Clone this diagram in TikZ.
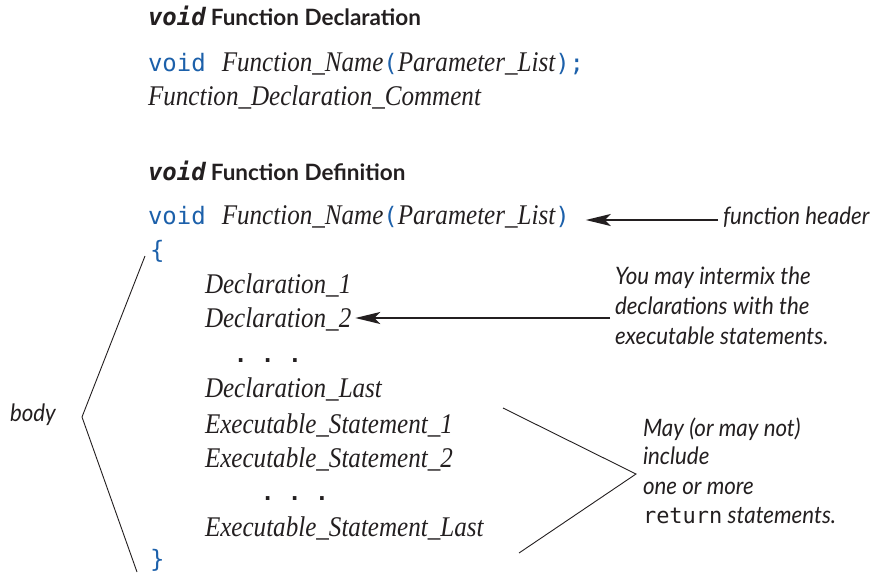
\documentclass[tikz,border=0pt]{standalone}
\usepackage{fontspec}
\usetikzlibrary{arrows.meta}
\setmainfont{Liberation Serif}
\newfontfamily\codefont[FakeStretch=0.88]{Liberation Serif}
\newfontfamily\monofont{DejaVu Sans Mono}
\newfontfamily\notefont[FakeStretch=0.93]{Lato}
\newfontfamily\headfont{Lato}
\definecolor{kwblue}{RGB}{28,96,170}
\definecolor{ink}{RGB}{35,31,32}
\newcommand{\kw}[1]{{\color{kwblue}\monofont\fontsize{24}{28}\selectfont #1}}
\newcommand{\ci}[1]{{\codefont\itshape #1}}
\begin{document}
\begin{tikzpicture}[x=1pt,y=-1pt,
  every node/.style={inner sep=0pt,outer sep=0pt,text=ink},
  code/.style={anchor=base west,font=\fontsize{28.5}{33}\selectfont},
  head/.style={anchor=base west,font=\fontsize{22.5}{26}\selectfont},
  note/.style={anchor=base west,font=\notefont\itshape\fontsize{24}{28}\selectfont},
  dots/.style={anchor=base west,font=\monofont\bfseries\fontsize{22}{24}\selectfont},
  brace/.style={anchor=base west,text=kwblue,font=\monofont\fontsize{24}{28}\selectfont},
  pointer/.style={draw=ink,line width=2pt,-{Stealth[length=25pt,width=12pt,inset=6pt]}},
  bracket/.style={draw=ink,line width=0.9pt}]
\useasboundingbox (0,0) rectangle (883,573);
% declaration
\node[head] (h1) at (148,25) {{\monofont\bfseries\itshape\fontsize{24}{26}\selectfont void}\hspace{5pt}{\headfont\bfseries Function Declaration}};
\node[code] (d1) at (148,71) {\kw{void}\hspace{16pt}\ci{Function\_Name}\kw{(}\ci{Parameter\_List}\kw{);}};
\node[code] (d2) at (148,105) {\ci{Function\_Declaration\_Comment}};
% definition
\node[head] (h2) at (148,180) {{\monofont\bfseries\itshape\fontsize{24}{26}\selectfont void}\hspace{5pt}{\headfont\bfseries Function Definition}};
\node[code] (f1) at (148,224) {\kw{void}\hspace{16pt}\ci{Function\_Name}\kw{(}\ci{Parameter\_List}\kw{)}};
\node[brace] (ob) at (150,258) {\{};
\node[code] (l1) at (205,293) {\ci{Declaration\_1}};
\node[code] (l2) at (205,327) {\ci{Declaration\_2}};
\node[dots] (p1) at (234,362) {.\hspace{14pt}.\hspace{14pt}.};
\node[code] (l3) at (205,397) {\ci{Declaration\_Last}};
\node[code] (l4) at (205,433) {\ci{Executable\_Statement\_1}};
\node[code] (l5) at (205,467) {\ci{Executable\_Statement\_2}};
\node[dots] (p2) at (261,500) {.\hspace{14pt}.\hspace{14pt}.};
\node[code] (l6) at (205,536) {\ci{Executable\_Statement\_Last}};
\node[brace] (cb) at (150,567) {\}};
% notes
\node[note] (n1) at (723,224) {function header};
\node[note] (n2a) at (615,284) {You may intermix the};
\node[note] (n2b) at (615,314) {declarations with the};
\node[note] (n2c) at (615,344) {executable statements.};
\node[note] (n3a) at (643,436) {May (or may not)};
\node[note] (n3b) at (643,464) {include};
\node[note] (n3c) at (643,494) {one or more};
\node[note] (n3d) at (643,523) {{\monofont\upshape\fontsize{22}{26}\selectfont return} statements.};
\node[note] (body) at (10,421) {body};
% connectors
\coordinate (t1) at ([shift={(16,-4)}]f1.base east);
\coordinate (s1) at ([xshift=-5pt]n1.base west);
\draw[pointer] (s1 |- t1) -- (t1);
\coordinate (t2) at ([shift={(4,-9)}]l2.base east);
\coordinate (s2) at ([xshift=-5pt]n2b.base west);
\draw[pointer] (s2 |- t2) -- (t2);
\coordinate (bv) at (82,417);
\coordinate (bt) at (145,256);
\coordinate (bb) at (137,572);
\draw[bracket] (bt) -- (bv) -- (bb);
\coordinate (rv) at (636,474);
\coordinate (rt) at (503,408);
\coordinate (rb) at (519,553);
\draw[bracket] (rt) -- (rv) -- (rb);
\end{tikzpicture}
\end{document}
